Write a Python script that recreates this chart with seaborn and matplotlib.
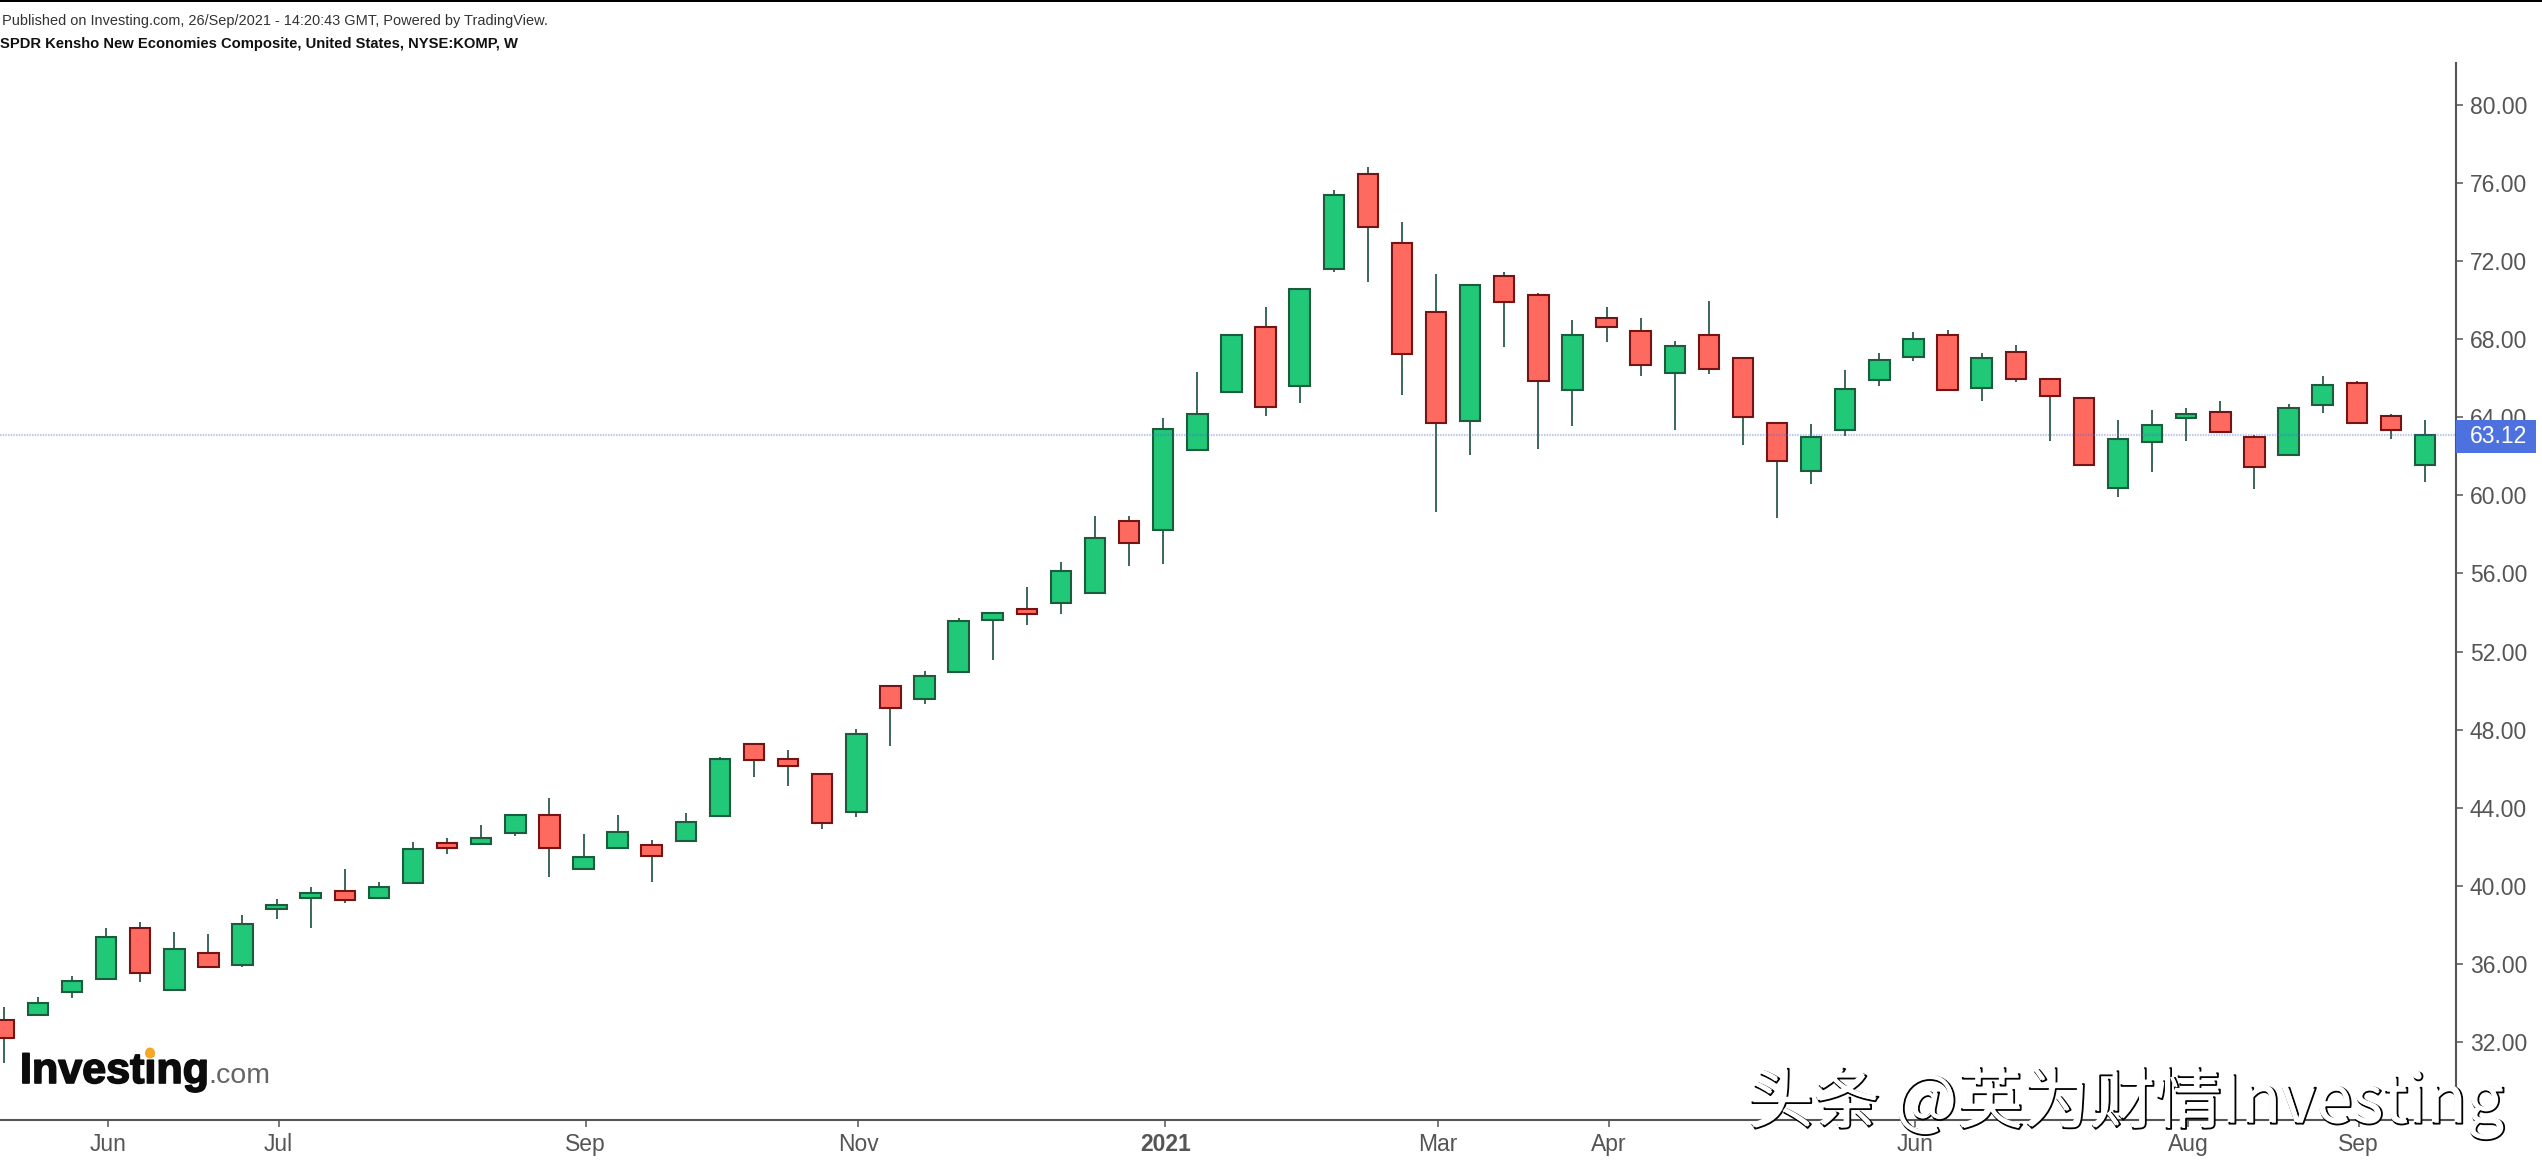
# plot.py - weekly candlesticks for NYSE:KOMP, Investing.com / TradingView look
import matplotlib
matplotlib.use("Agg")
import matplotlib.pyplot as plt
import matplotlib.patheffects as pe
from matplotlib.patches import Ellipse, Rectangle
import pandas as pd
import seaborn as sns

# weekly prices
opens = [33.13, 33.38, 34.56, 35.21, 37.82, 34.66, 36.54, 35.94, 38.83, 39.38, 39.75, 39.38,
         40.15, 42.21, 42.16, 42.69, 43.61, 40.88, 41.95, 42.11, 42.28, 43.56, 47.25, 46.50,
         45.75, 43.77, 50.24, 49.56, 50.94, 53.62, 54.20, 54.49, 55.02, 58.71, 58.23, 62.31,
         65.32, 68.65, 65.63, 71.62, 76.47, 72.94, 69.40, 63.82, 71.23, 70.25, 65.42, 69.09,
         68.43, 66.28, 68.22, 67.06, 63.73, 61.23, 63.37, 65.93, 67.11, 68.22, 65.52, 67.36,
         65.98, 65.01, 60.36, 62.72, 63.98, 64.25, 62.97, 62.09, 64.65, 65.76, 64.05, 61.56]
highs = [33.78, 34.32, 35.38, 37.82, 38.16, 37.62, 37.53, 38.49, 39.34, 39.96, 40.85, 40.20,
         42.23, 42.45, 43.10, 43.61, 44.48, 42.66, 43.61, 42.33, 43.71, 46.62, 47.25, 46.94,
         45.75, 48.02, 50.24, 51.01, 53.70, 54.00, 55.29, 56.57, 58.93, 58.93, 63.95, 66.33,
         68.22, 69.64, 70.58, 75.63, 76.81, 74.03, 71.35, 70.78, 71.45, 70.39, 68.99, 69.64,
         69.11, 67.92, 69.96, 67.06, 63.73, 63.66, 66.42, 67.28, 68.35, 68.47, 67.28, 67.70,
         65.98, 65.01, 63.84, 64.39, 64.49, 64.82, 63.09, 64.70, 66.10, 65.88, 64.17, 63.86]
lows = [30.91, 33.38, 34.24, 35.21, 35.07, 34.66, 35.86, 35.82, 38.28, 37.86, 39.14, 39.38,
        40.15, 41.61, 42.16, 42.57, 40.44, 40.88, 41.95, 40.21, 42.28, 43.56, 45.56, 45.13,
        42.89, 43.54, 47.18, 49.33, 50.94, 51.57, 53.38, 53.93, 55.02, 56.40, 56.50, 62.31,
        65.32, 64.09, 64.76, 71.47, 70.95, 65.17, 59.17, 62.08, 67.62, 62.38, 63.56, 67.85,
        66.14, 63.36, 66.24, 62.60, 58.84, 60.57, 63.04, 65.60, 66.88, 65.40, 64.85, 65.79,
        62.80, 61.56, 59.92, 61.20, 62.80, 63.26, 60.34, 62.09, 64.20, 63.69, 62.90, 60.67]
closes = [32.22, 33.98, 35.14, 37.40, 35.52, 36.75, 35.86, 38.04, 39.02, 39.65, 39.27, 39.96,
          41.90, 41.95, 42.43, 43.61, 41.95, 41.46, 42.74, 41.53, 43.27, 46.50, 46.45, 46.12,
          43.24, 47.80, 49.13, 50.77, 53.57, 54.00, 53.94, 56.13, 57.84, 57.58, 63.40, 64.16,
          68.22, 64.55, 70.58, 75.39, 73.76, 67.23, 63.70, 70.78, 69.90, 65.85, 68.22, 68.62,
          66.69, 67.68, 66.48, 64.02, 61.76, 62.97, 65.43, 66.95, 68.01, 65.40, 67.04, 65.94,
          65.09, 61.56, 62.87, 63.62, 64.19, 63.26, 61.44, 64.48, 65.65, 63.69, 63.37, 63.12]

price_ticks = [32, 36, 40, 44, 48, 52, 56, 60, 64, 68, 72, 76, 80]
month_pos = [3, 8, 17, 25, 34, 42, 47, 56, 64, 69]
month_labels = ["Jun", "Jul", "Sep", "Nov", "2021", "Mar", "Apr", "Jun", "Aug", "Sep"]
last_price = 63.12

GREEN = "#20c878"
GREEN_EDGE = "#1d5a3e"
RED = "#ff6a60"
RED_EDGE = "#751414"
WICK = "#2c5c4a"
AXIS = "#555555"
W, H = 2542, 1164

sns.set_theme(style="white")
plt.rcParams["font.family"] = ["Liberation Sans", "DejaVu Sans"]

df = pd.DataFrame({"open": opens, "high": highs, "low": lows, "close": closes})
df["idx"] = df.index
df["up"] = df["close"] >= df["open"]
df["body_lo"] = df[["open", "close"]].min(axis=1)
df["height"] = (df["close"] - df["open"]).abs()
wicks = df.melt(id_vars="idx", value_vars=["low", "high"], value_name="price").sort_values("idx")

fig = plt.figure(figsize=(W / 100, H / 100), dpi=100, facecolor="white")
ax = fig.add_axes([0, (H - 1120) / H, 2456 / W, (1120 - 62.7) / H])

# wicks first, bodies on top
sns.lineplot(data=wicks, x="idx", y="price", units="idx", estimator=None, color=WICK,
             linewidth=1.3, solid_capstyle="butt", legend=False, ax=ax, zorder=2)
for is_up, fill, edge in [(True, GREEN, GREEN_EDGE), (False, RED, RED_EDGE)]:
    part = df[df["up"] == is_up]
    sns.barplot(data=part, x="idx", y="height", bottom=part["body_lo"].values, native_scale=True,
                width=0.6, color=fill, saturation=1, edgecolor=edge, linewidth=1.5,
                errorbar=None, ax=ax, zorder=3)

ax.axhline(last_price, color="#4a68d8", alpha=0.35, lw=1.6, ls=(0, (0.7, 0.5)), zorder=4)

ax.set_xlim(-0.111, 71.91)
ax.set_ylim(28.0, 82.17)
ax.set_xlabel("")
ax.set_ylabel("")
ax.yaxis.tick_right()
ax.set_yticks(price_ticks, [f"{v:.2f}" for v in price_ticks])
# month ticks sit a hair right of the candle centres
ax.set_xticks([p + 0.06 for p in month_pos], month_labels)
for lab in ax.get_xticklabels():
    if lab.get_text() == "2021":
        lab.set_fontweight("bold")
ax.tick_params(axis="y", length=5, width=1.1, color=AXIS, labelcolor=AXIS, labelsize=16.5, pad=5,
               right=True, left=False)
ax.tick_params(axis="x", length=5, width=1.1, color=AXIS, labelcolor=AXIS, labelsize=16.5, pad=4.7,
               bottom=True)
ax.grid(False)
for side in ["top", "left"]:
    ax.spines[side].set_visible(False)
for side in ["right", "bottom"]:
    ax.spines[side].set_color(AXIS)
    ax.spines[side].set_linewidth(1.5)

# last price tag on the axis
ax.add_patch(Rectangle((1.0, last_price - 0.95), 80 / 2456, 1.69, transform=ax.get_yaxis_transform(),
                       facecolor="#4d72e0", edgecolor="none", clip_on=False, zorder=5))
ax.annotate(f"{last_price:.2f}", xy=(1.0, last_price - 0.1), xycoords=ax.get_yaxis_transform(),
            xytext=(10, 0), textcoords="offset points", color="white", fontsize=16.5,
            va="center", ha="left", zorder=6, annotation_clip=False)

# header
fig.add_artist(Rectangle((0, 1 - 2 / H), 1, 2 / H, transform=fig.transFigure, facecolor="black",
                         edgecolor="none"))
fig.text(2 / W, 1 - 21 / H, "Published on Investing.com, 26/Sep/2021 - 14:20:43 GMT, Powered by TradingView.",
         fontsize=10.47, color="#333333", va="center")
fig.text(0, 1 - 44 / H, "SPDR Kensho New Economies Composite, United States, NYSE:KOMP, W",
         fontsize=10.6, fontweight="bold", color="#111111", va="center")

# logo
fig.text(20 / W, 1 - 1083 / H, "Investing", fontsize=31, fontweight="bold", color="#0c0c0c", va="baseline",
         path_effects=[pe.withStroke(linewidth=1.2, foreground="#0c0c0c")])
fig.text(208 / W, 1 - 1083 / H, ".com", fontsize=20.5, color="#666666", va="baseline")
fig.add_artist(Ellipse((150 / W, 1 - 1053 / H), 10 / W, 11 / H, transform=fig.transFigure,
                       facecolor="#f7a823", edgecolor="none", zorder=5))

# watermark
fig.text(1747 / W, 1 - 1122 / H, "头条 @英为财情Investing", fontsize=47.6, color="white",
         family=["Noto Sans CJK SC", "DejaVu Sans"], va="baseline", zorder=10,
         path_effects=[pe.Stroke(linewidth=1.3, foreground="black", offset=(1.2, -1.2)), pe.Normal()])

fig.savefig("out.png", dpi=100, facecolor="white")
